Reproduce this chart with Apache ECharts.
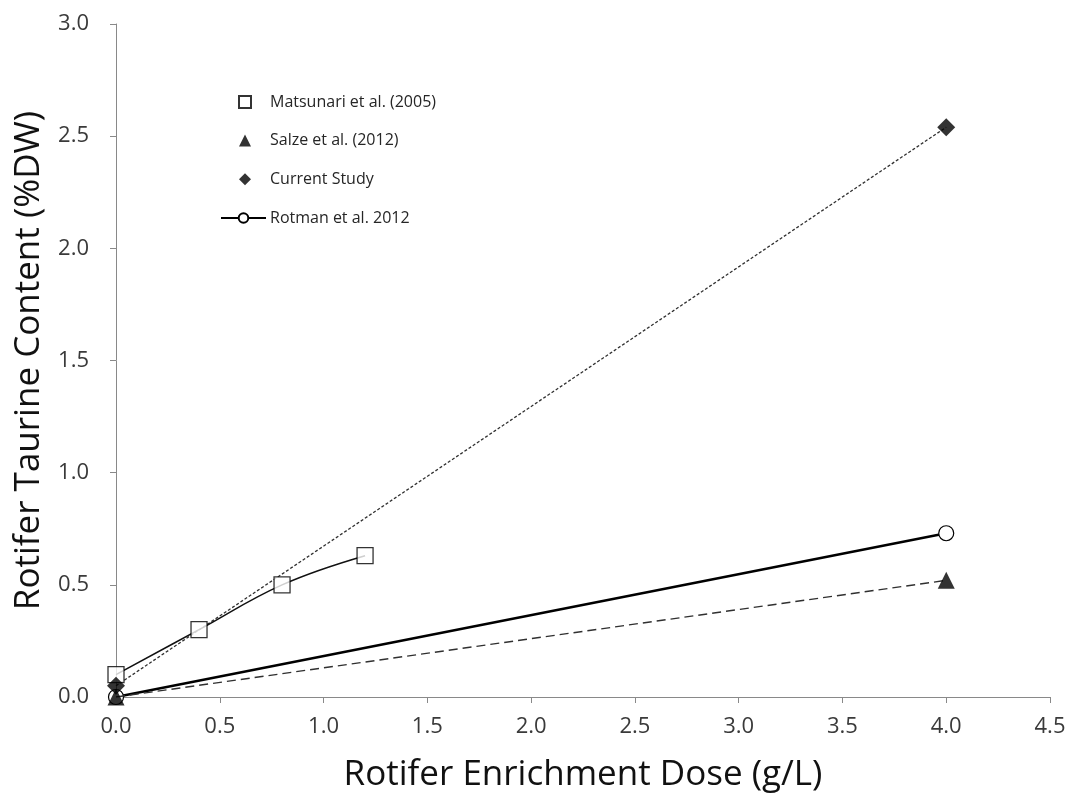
<!DOCTYPE html>
<html>
<head>
<meta charset="utf-8">
<title>Rotifer Taurine Content vs Enrichment Dose</title>
<script src="https://cdn.jsdelivr.net/npm/echarts@6/dist/echarts.min.js"></script>
<style>
  html, body { margin: 0; padding: 0; background: #ffffff; }
  #chart { width: 1072px; height: 802px; }
</style>
</head>
<body>
<div id="chart"></div>
<script>
// Enrichment dose (g/L) and taurine content (%DW) per study
const matsunariDose = [0, 0.4, 0.8, 1.2];
const matsunariTaurine = [0.1, 0.3, 0.5, 0.63];

const salzeDose = [0, 4];
const salzeTaurine = [0, 0.52];

const currentDose = [0, 4];
const currentTaurine = [0.05, 2.54];

const rotmanDose = [0, 4];
const rotmanTaurine = [0, 0.73];

const xTicks = [0, 0.5, 1, 1.5, 2, 2.5, 3, 3.5, 4, 4.5];
const yTicks = [0, 0.5, 1, 1.5, 2, 2.5, 3];

const seriesNames = ['Matsunari et al. (2005)', 'Salze et al. (2012)', 'Current Study', 'Rotman et al. 2012'];

const pairs = (xs, ys) => xs.map((x, i) => [x, ys[i]]);

const FONT = '"Open Sans", Lato, sans-serif';

const legendText = { fontFamily: FONT, fontSize: 16, color: '#262626' };

const chart = echarts.init(document.getElementById('chart'), null, { renderer: 'canvas' });

chart.setOption({
  backgroundColor: '#ffffff',
  animation: false,
  textStyle: { fontFamily: FONT },
  grid: { left: 116, right: 22, top: 24, bottom: 105, containLabel: false },
  legend: [
    // marker-only entries
    {
      data: seriesNames.slice(0, 3),
      orient: 'vertical',
      left: 238,
      top: 94,
      padding: 0,
      itemWidth: 12,
      itemHeight: 12,
      itemGap: 22.6,
      textStyle: Object.assign({ padding: [0, 0, 0, 14] }, legendText),
      selectedMode: false
    },
    // line + marker entry
    {
      data: [seriesNames[3]],
      orient: 'vertical',
      left: 220,
      top: 210,
      padding: 0,
      itemWidth: 45,
      itemHeight: 12,
      textStyle: Object.assign({ padding: [0, 0, 0, -1] }, legendText),
      selectedMode: false
    }
  ],
  xAxis: {
    type: 'value',
    min: xTicks[0],
    max: xTicks[xTicks.length - 1],
    interval: 0.5,
    name: 'Rotifer Enrichment Dose (g/L)',
    nameLocation: 'middle',
    nameGap: 61,
    nameTextStyle: { fontFamily: FONT, fontSize: 35, color: '#111111' },
    axisLine: { show: true, lineStyle: { color: '#898989', width: 1 } },
    axisTick: { show: true, inside: false, length: 6, lineStyle: { color: '#898989' } },
    axisLabel: {
      fontFamily: FONT, fontSize: 22, color: '#3a3a3a', margin: 19,
      formatter: v => v.toFixed(1)
    },
    splitLine: { show: false }
  },
  yAxis: {
    type: 'value',
    min: yTicks[0],
    max: yTicks[yTicks.length - 1],
    interval: 0.5,
    name: 'Rotifer Taurine Content (%DW)',
    nameLocation: 'middle',
    nameGap: 69,
    nameTextStyle: { fontFamily: FONT, fontSize: 35, color: '#111111' },
    axisLine: { show: true, lineStyle: { color: '#898989', width: 1 } },
    axisTick: { show: true, inside: false, length: 6, lineStyle: { color: '#898989' } },
    axisLabel: {
      fontFamily: FONT, fontSize: 22, color: '#3a3a3a', margin: 27,
      formatter: v => v.toFixed(1)
    },
    splitLine: { show: false }
  },
  series: [
    // Rotman et al.: solid line with open circles
    {
      name: seriesNames[3],
      type: 'line',
      data: pairs(rotmanDose, rotmanTaurine),
      symbol: 'circle',
      symbolSize: 15,
      showSymbol: true,
      lineStyle: { color: '#000000', width: 2.5 },
      itemStyle: { color: '#ffffff', borderColor: '#000000', borderWidth: 1.2 },
      z: 2
    },
    // Trend lines
    {
      name: 'Salze trend',
      type: 'line',
      data: pairs(salzeDose, salzeTaurine),
      showSymbol: false,
      symbol: 'none',
      lineStyle: { color: '#303030', width: 1.4, type: [9, 5] },
      z: 3
    },
    {
      name: 'Current trend',
      type: 'line',
      data: pairs(currentDose, currentTaurine),
      showSymbol: false,
      symbol: 'none',
      lineStyle: { color: '#303030', width: 1.3, type: [3, 2] },
      z: 3
    },
    {
      name: 'Matsunari trend',
      type: 'line',
      data: pairs(matsunariDose, matsunariTaurine),
      smooth: 0.4,
      showSymbol: false,
      symbol: 'none',
      lineStyle: { color: '#111111', width: 1.5 },
      z: 3
    },
    // Measured points
    {
      name: seriesNames[0],
      type: 'scatter',
      data: pairs(matsunariDose, matsunariTaurine),
      symbol: 'rect',
      symbolSize: 16,
      itemStyle: { color: '#ffffff', borderColor: '#000000', borderWidth: 1.3 },
      z: 4
    },
    {
      name: seriesNames[1],
      type: 'scatter',
      data: pairs(salzeDose, salzeTaurine),
      symbol: 'triangle',
      symbolSize: [17, 17],
      itemStyle: { color: '#000000' },
      z: 5
    },
    {
      name: seriesNames[2],
      type: 'scatter',
      data: pairs(currentDose, currentTaurine),
      symbol: 'diamond',
      symbolSize: [18, 18],
      itemStyle: { color: '#000000' },
      z: 5
    }
  ]
});
</script>
</body>
</html>
